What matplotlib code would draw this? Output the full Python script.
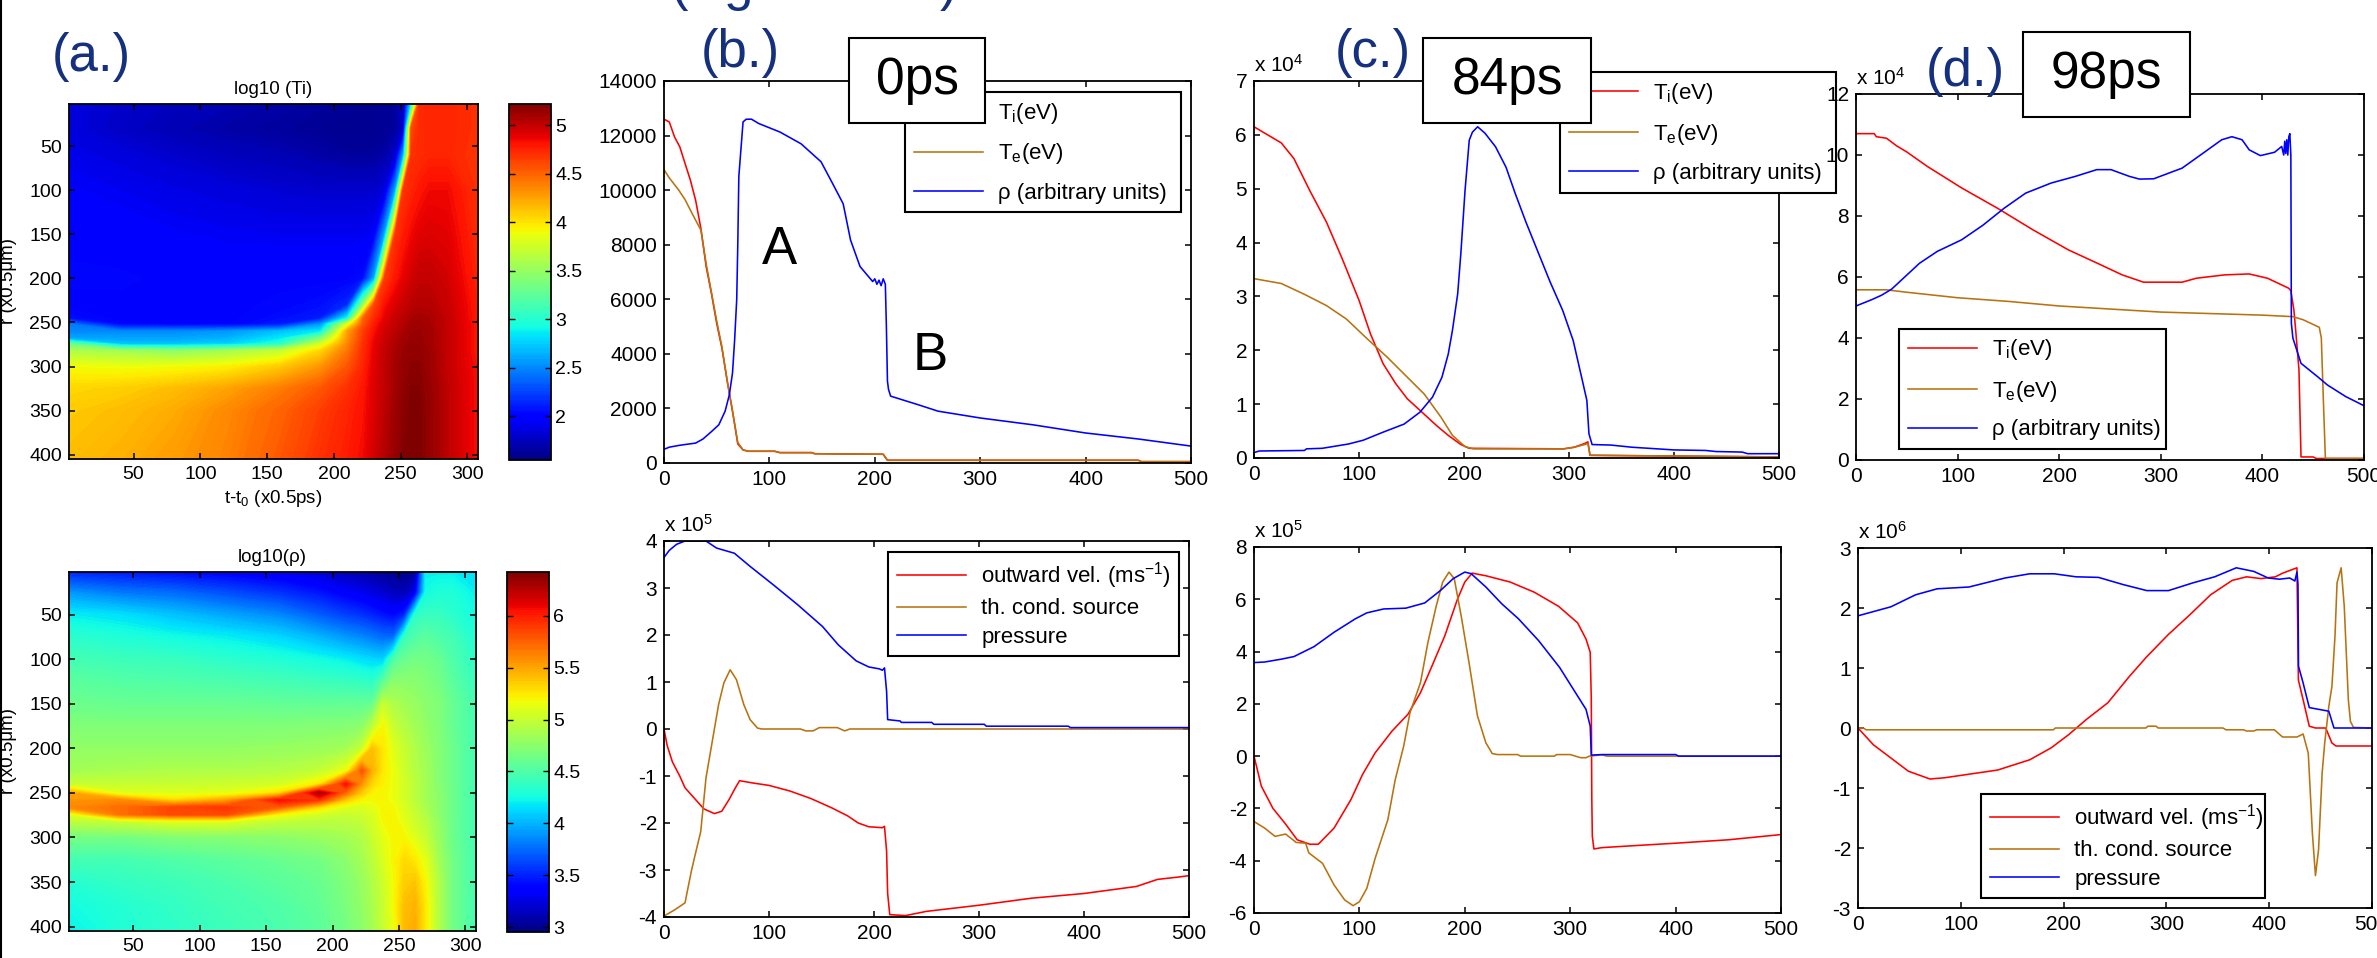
import numpy as np
import matplotlib
matplotlib.use('Agg')
import matplotlib.pyplot as plt
from matplotlib.lines import Line2D
from matplotlib.patches import Rectangle

plt.rcParams['font.family'] = ['Liberation Sans', 'DejaVu Sans']
plt.rcParams['mathtext.fontset'] = 'custom'
plt.rcParams['mathtext.rm'] = 'Liberation Sans'
plt.rcParams['mathtext.it'] = 'Liberation Sans'
plt.rcParams['mathtext.default'] = 'regular'
plt.rcParams['axes.unicode_minus'] = False

W, H = 2377, 958
RED = '#ff0000'
BROWN = '#b8720f'
BLUE = '#0000ff'
NAVY = '#15307f'

# ---- heat maps, values are log10
ti_t = [1, 40, 80, 120, 160, 190, 210, 222, 230, 238, 246, 252, 258, 264, 272, 285, 308]
ti_r = [1, 30, 60, 100, 150, 200, 230, 245, 252, 260, 268, 274, 282, 300, 325, 350, 405]
ti_log = [
    [1.85, 1.80, 1.75, 1.72, 1.68, 1.65, 1.63, 1.62, 1.62, 1.62, 1.65, 1.75, 2.80, 4.72, 4.75, 4.75, 4.70],
    [1.85, 1.78, 1.72, 1.68, 1.65, 1.62, 1.60, 1.60, 1.60, 1.62, 1.65, 1.80, 4.60, 4.72, 4.75, 4.75, 4.70],
    [1.90, 1.85, 1.80, 1.75, 1.72, 1.68, 1.65, 1.65, 1.65, 1.68, 1.80, 2.60, 4.70, 4.72, 4.75, 4.75, 4.68],
    [1.95, 1.92, 1.88, 1.85, 1.82, 1.80, 1.80, 1.80, 1.80, 1.85, 2.60, 4.68, 4.75, 4.80, 4.85, 4.85, 4.70],
    [2.00, 1.98, 1.95, 1.93, 1.92, 1.92, 1.92, 1.92, 1.95, 2.60, 4.68, 4.78, 4.85, 4.90, 4.92, 4.90, 4.72],
    [2.02, 2.02, 2.00, 2.00, 2.00, 2.00, 2.00, 2.05, 2.60, 4.65, 4.80, 4.88, 4.95, 5.00, 5.00, 4.95, 4.75],
    [2.00, 2.00, 2.00, 2.00, 2.02, 2.05, 2.15, 3.50, 4.60, 4.82, 4.92, 4.98, 5.03, 5.05, 5.05, 4.98, 4.78],
    [2.05, 2.00, 2.00, 2.00, 2.05, 2.10, 2.90, 4.50, 4.72, 4.88, 4.98, 5.03, 5.08, 5.10, 5.08, 5.00, 4.78],
    [2.45, 2.02, 2.00, 2.00, 2.10, 2.55, 3.80, 4.55, 4.78, 4.92, 5.00, 5.05, 5.10, 5.12, 5.08, 5.00, 4.80],
    [2.50, 2.50, 2.50, 2.55, 2.70, 2.85, 4.25, 4.65, 4.82, 4.95, 5.02, 5.08, 5.12, 5.13, 5.10, 5.00, 4.80],
    [2.60, 2.60, 2.60, 2.65, 2.85, 3.40, 4.30, 4.68, 4.85, 4.97, 5.05, 5.10, 5.14, 5.14, 5.10, 5.00, 4.80],
    [3.30, 2.70, 2.70, 2.75, 3.00, 3.75, 4.35, 4.70, 4.87, 4.98, 5.06, 5.11, 5.15, 5.15, 5.10, 5.00, 4.80],
    [3.60, 3.55, 3.45, 3.55, 3.70, 4.05, 4.42, 4.72, 4.88, 5.00, 5.08, 5.13, 5.16, 5.16, 5.12, 5.00, 4.80],
    [3.90, 3.88, 3.90, 3.95, 4.10, 4.30, 4.55, 4.75, 4.90, 5.00, 5.10, 5.15, 5.18, 5.18, 5.12, 5.00, 4.82],
    [4.05, 4.08, 4.15, 4.25, 4.40, 4.55, 4.70, 4.80, 4.92, 5.00, 5.10, 5.17, 5.20, 5.20, 5.14, 5.02, 4.82],
    [4.10, 4.15, 4.22, 4.35, 4.50, 4.65, 4.75, 4.82, 4.92, 5.02, 5.12, 5.18, 5.21, 5.21, 5.15, 5.02, 4.82],
    [4.15, 4.20, 4.28, 4.38, 4.55, 4.70, 4.78, 4.85, 4.95, 5.05, 5.14, 5.20, 5.21, 5.21, 5.15, 5.02, 4.82],
]

rho_t = [1, 40, 80, 120, 160, 190, 210, 222, 230, 238, 246, 254, 262, 270, 280, 290, 308]
rho_r = [1, 25, 50, 75, 100, 125, 150, 175, 200, 225, 240, 250, 258, 266, 274, 282, 300, 325, 350, 375, 405]
rho_log = [
    [3.50, 3.45, 3.40, 3.35, 3.30, 3.20, 3.12, 3.08, 3.05, 3.02, 3.00, 3.00, 3.02, 4.20, 4.20, 4.20, 4.15],
    [3.90, 3.80, 3.75, 3.65, 3.55, 3.45, 3.35, 3.30, 3.25, 3.20, 3.15, 3.12, 3.30, 4.25, 4.30, 4.30, 4.20],
    [4.20, 4.15, 4.05, 3.95, 3.85, 3.70, 3.60, 3.55, 3.50, 3.45, 3.40, 3.50, 4.35, 4.40, 4.40, 4.35, 4.25],
    [4.35, 4.30, 4.25, 4.20, 4.12, 4.00, 3.90, 3.85, 3.80, 3.75, 3.75, 4.40, 4.50, 4.55, 4.50, 4.45, 4.30],
    [4.45, 4.42, 4.40, 4.35, 4.30, 4.25, 4.20, 4.15, 4.12, 4.10, 4.50, 4.60, 4.65, 4.65, 4.60, 4.50, 4.35],
    [4.55, 4.52, 4.50, 4.48, 4.45, 4.42, 4.40, 4.38, 4.35, 4.55, 4.75, 4.75, 4.75, 4.70, 4.65, 4.55, 4.40],
    [4.62, 4.60, 4.60, 4.60, 4.58, 4.58, 4.58, 4.58, 4.60, 5.00, 4.90, 4.85, 4.80, 4.75, 4.70, 4.60, 4.45],
    [4.70, 4.70, 4.70, 4.70, 4.70, 4.72, 4.72, 4.75, 4.95, 5.20, 5.00, 4.92, 4.85, 4.78, 4.70, 4.60, 4.45],
    [4.78, 4.78, 4.78, 4.78, 4.80, 4.82, 4.85, 5.00, 5.40, 5.25, 5.10, 5.00, 4.90, 4.82, 4.72, 4.62, 4.45],
    [4.85, 4.88, 4.90, 4.90, 4.92, 4.98, 5.15, 5.80, 5.45, 5.25, 5.15, 5.02, 4.92, 4.85, 4.72, 4.62, 4.45],
    [5.00, 5.00, 5.00, 5.02, 5.05, 5.25, 6.05, 5.55, 5.30, 5.22, 5.15, 5.05, 4.95, 4.85, 4.72, 4.62, 4.45],
    [5.50, 5.10, 5.10, 5.12, 5.30, 6.30, 5.70, 5.35, 5.22, 5.20, 5.15, 5.05, 4.95, 4.85, 4.75, 4.62, 4.45],
    [5.55, 5.60, 5.30, 5.50, 6.05, 5.90, 5.35, 5.20, 5.18, 5.20, 5.15, 5.05, 4.95, 4.85, 4.75, 4.62, 4.45],
    [5.60, 5.70, 5.85, 5.90, 5.75, 5.30, 5.10, 5.08, 5.12, 5.20, 5.18, 5.08, 4.98, 4.88, 4.75, 4.62, 4.45],
    [5.10, 5.70, 5.85, 5.85, 5.20, 5.05, 5.00, 5.03, 5.08, 5.20, 5.20, 5.10, 5.00, 4.90, 4.75, 4.62, 4.45],
    [4.95, 5.00, 5.10, 5.10, 4.98, 4.95, 4.95, 4.98, 5.05, 5.18, 5.22, 5.12, 5.02, 4.95, 4.78, 4.62, 4.45],
    [4.65, 4.65, 4.70, 4.72, 4.75, 4.80, 4.85, 4.90, 5.00, 5.12, 5.20, 5.20, 5.10, 5.00, 4.80, 4.62, 4.45],
    [4.45, 4.45, 4.50, 4.55, 4.60, 4.65, 4.75, 4.85, 4.95, 5.08, 5.20, 5.30, 5.25, 5.12, 4.85, 4.65, 4.45],
    [4.32, 4.38, 4.42, 4.48, 4.55, 4.60, 4.70, 4.80, 4.90, 5.02, 5.18, 5.35, 5.38, 5.20, 4.90, 4.65, 4.45],
    [4.25, 4.32, 4.38, 4.45, 4.50, 4.58, 4.68, 4.78, 4.88, 5.00, 5.18, 5.40, 5.45, 5.25, 4.90, 4.65, 4.45],
    [4.20, 4.30, 4.36, 4.42, 4.48, 4.55, 4.65, 4.75, 4.85, 5.00, 5.15, 5.42, 5.48, 5.25, 4.90, 4.65, 4.45],
]

# ---- (b.) 0ps
b_ti_x = [0, 5, 10, 15, 20, 25, 30, 35, 40, 45, 50, 55, 60, 65, 70, 75, 80, 105, 110, 140, 143, 208, 212, 450, 453, 500]
b_ti_y = [12600, 12500, 11950, 11585, 10975, 10370, 9630, 8600, 7200, 6220, 5120, 4200, 3000, 1900, 700, 480, 430, 430, 380, 380, 340, 320, 100, 100, 50, 50]
b_te_x = [0, 5, 10, 14, 20, 25, 30, 35, 40, 45, 50, 55, 60, 65, 70, 75, 80, 105, 110, 140, 143, 208, 212, 450, 453, 500]
b_te_y = [10750, 10450, 10200, 10000, 9650, 9270, 8900, 8540, 7300, 6250, 5200, 4250, 3000, 1900, 750, 480, 430, 430, 380, 380, 340, 320, 100, 100, 50, 50]
b_rho_x = [0, 5, 15, 30, 37, 45, 52, 58, 62, 65, 67, 69, 70, 71, 73, 75, 78, 83, 90, 110, 130, 149, 160, 170, 177, 186, 198, 200, 202, 204, 206, 208, 210, 211, 212, 213, 215, 240, 260, 300, 350, 400, 450, 500]
b_rho_y = [500, 580, 650, 730, 880, 1150, 1400, 1900, 2500, 3300, 4500, 6000, 8000, 10500, 11500, 12500, 12600, 12600, 12440, 12130, 11700, 11040, 10240, 9500, 8170, 7200, 6650, 6750, 6550, 6700, 6500, 6750, 6550, 5000, 3000, 2700, 2450, 2150, 1900, 1650, 1400, 1100, 880, 620]

b_vel_x = [0, 3, 8, 15, 20, 30, 38, 48, 55, 62, 68, 72, 85, 100, 120, 140, 160, 175, 185, 195, 208, 210, 212, 213, 215, 230, 250, 300, 350, 400, 450, 470, 490, 500]
b_vel_y = [0, -.35, -.7, -1.0, -1.25, -1.5, -1.7, -1.8, -1.75, -1.5, -1.25, -1.1, -1.15, -1.2, -1.32, -1.48, -1.68, -1.85, -2.0, -2.08, -2.1, -2.07, -2.6, -3.5, -3.95, -3.97, -3.88, -3.75, -3.6, -3.5, -3.35, -3.2, -3.15, -3.12]
b_th_x = [0, 10, 20, 26, 29, 35, 40, 46, 52, 57, 63, 69, 76, 82, 89, 93, 130, 135, 142, 148, 165, 172, 177, 500]
b_th_y = [-3.98, -3.85, -3.7, -3.03, -2.74, -2.18, -1.04, -.26, .52, .98, 1.26, 1.05, .52, .2, .02, 0, 0, -.04, -.04, .03, .03, -.04, 0, 0]
b_p_x = [0, 5, 12, 20, 40, 50, 67, 82, 104, 127, 151, 166, 183, 195, 205, 208, 210, 212, 213, 225, 226, 255, 257, 305, 307, 385, 387, 500]
b_p_y = [3.65, 3.8, 3.93, 4.0, 4.0, 3.85, 3.74, 3.46, 3.07, 2.65, 2.18, 1.79, 1.45, 1.32, 1.28, 1.25, 1.3, .8, .2, .17, .14, .14, .1, .1, .06, .06, .03, .03]

# ---- (c.) 84ps
c_ti_x = [0, 26, 38, 53, 69, 84, 100, 111, 123, 135, 146, 160, 174, 185, 197, 205, 295, 305, 315, 318, 320, 500]
c_ti_y = [6.15, 5.85, 5.56, 4.97, 4.38, 3.7, 2.93, 2.3, 1.75, 1.38, 1.1, .85, .6, .42, .25, .18, .17, .2, .27, .3, .05, .02]
c_te_x = [0, 26, 49, 69, 88, 108, 127, 146, 162, 178, 189, 201, 209, 295, 305, 315, 318, 320, 500]
c_te_y = [3.33, 3.24, 3.03, 2.83, 2.58, 2.21, 1.87, 1.5, 1.19, .76, .42, .21, .17, .17, .2, .25, .27, .05, .02]
c_rho_x = [0, 5, 48, 50, 65, 90, 104, 123, 143, 158, 170, 179, 185, 189, 194, 197, 201, 205, 208, 213, 220, 230, 240, 249, 259, 271, 282, 294, 304, 312, 317, 319, 322, 340, 360, 400, 430, 440, 465, 470, 500]
c_rho_y = [.1, .13, .14, .17, .18, .26, .33, .48, .63, .85, 1.13, 1.5, 1.93, 2.37, 3.05, 3.8, 4.97, 5.9, 6.05, 6.15, 6.03, 5.78, 5.4, 4.9, 4.38, 3.8, 3.27, 2.74, 2.18, 1.5, 1.07, .45, .25, .24, .2, .15, .14, .12, .11, .08, .08]

c_vel_x = [0, 7, 18, 30, 41, 53, 61, 76, 92, 103, 115, 131, 146, 158, 169, 181, 193, 200, 207, 220, 243, 266, 289, 307, 315, 319, 320, 320.5, 321, 322.5, 330, 350, 400, 450, 500]
c_vel_y = [0, -1.15, -2.0, -2.6, -3.2, -3.37, -3.37, -2.75, -1.66, -.7, .13, .96, 1.6, 2.43, 3.46, 4.6, 6.0, 6.66, 7.0, 6.9, 6.66, 6.27, 5.73, 5.1, 4.48, 3.97, 2.2, -1.66, -3.07, -3.55, -3.5, -3.45, -3.33, -3.2, -3.0]
c_th_x = [0, 10, 20, 30, 40, 49, 52, 65, 76, 86, 94, 100, 107, 115, 127, 134, 142, 148, 158, 165, 173, 179, 185, 190, 196.5, 204, 212, 220, 226, 231, 250, 253, 285, 287, 300, 305, 310, 315, 318, 330, 335, 400, 500]
c_th_y = [-2.5, -2.75, -3.07, -2.98, -3.3, -3.33, -3.7, -4.1, -4.93, -5.5, -5.72, -5.57, -5.06, -3.9, -2.43, -.9, .38, 1.66, 2.82, 4.35, 5.76, 6.66, 7.04, 6.79, 5.38, 3.58, 1.54, .51, .1, .06, .06, 0, 0, .06, .06, 0, -.06, -.06, 0, .05, 0, 0, 0]
c_p_x = [0, 10, 26, 38, 57, 76, 96, 107, 123, 144, 162, 177, 189, 200, 206, 220, 235, 251, 270, 290, 305, 315, 319, 320, 330, 400, 403, 500]
c_p_y = [3.58, 3.6, 3.71, 3.81, 4.19, 4.74, 5.25, 5.48, 5.63, 5.66, 5.86, 6.34, 6.79, 7.04, 6.98, 6.47, 5.83, 5.25, 4.42, 3.39, 2.43, 1.79, 1.15, .04, .06, .06, 0, 0]

# ---- (d.) 98ps
d_ti_x = [0, 18, 20, 30, 40, 50, 70, 104, 139, 174, 209, 237, 262, 283, 321, 335, 363, 387, 405, 426, 428, 431, 433, 436, 438, 450, 453, 500]
d_ti_y = [10.7, 10.7, 10.6, 10.55, 10.3, 10.1, 9.63, 8.92, 8.26, 7.55, 6.89, 6.46, 6.07, 5.83, 5.83, 5.96, 6.07, 6.1, 5.96, 5.63, 5.55, 4.92, 4.16, 2.95, .1, .1, .05, .05]
d_te_x = [0, 30, 50, 100, 150, 200, 250, 300, 350, 400, 430, 440, 456, 458, 460, 462, 500]
d_te_y = [5.58, 5.58, 5.5, 5.32, 5.2, 5.05, 4.95, 4.85, 4.8, 4.75, 4.7, 4.6, 4.35, 4.0, 1.97, .05, .05]
d_rho_x = [0, 15, 25, 35, 62.5, 80, 104, 125, 146, 167, 192, 216, 237, 251, 269, 279, 293, 321, 342, 360, 370, 380, 387, 398, 412, 419, 421, 422, 423, 424, 425, 426, 427, 428, 428.5, 430, 438, 454, 464, 482, 500]
d_rho_y = [5.05, 5.25, 5.4, 5.6, 6.45, 6.84, 7.22, 7.7, 8.26, 8.75, 9.08, 9.3, 9.52, 9.52, 9.3, 9.21, 9.22, 9.57, 10.07, 10.5, 10.6, 10.5, 10.17, 9.98, 10.09, 10.28, 10.0, 10.45, 10.05, 10.5, 10.0, 10.6, 10.7, 10.0, 4.48, 4.0, 3.17, 2.74, 2.46, 2.08, 1.78]

d_vel_x = [0, 15, 32, 49, 70, 84, 112, 136, 167, 188, 205, 222, 243, 264, 281, 302, 323, 343, 364, 378, 392, 406, 413, 427, 428.4, 433, 439, 445, 455, 461, 465, 500]
d_vel_y = [0, -.28, -.5, -.72, -.85, -.83, -.76, -.7, -.53, -.33, -.11, .14, .42, .86, 1.19, 1.56, 1.89, 2.22, 2.46, 2.52, 2.49, 2.52, 2.58, 2.67, .8, .47, .03, 0, 0, -.25, -.3, -.3]
d_th_x = [0, 5, 8, 190, 192, 280, 282, 290, 292, 355, 358, 375, 378, 385, 388, 405, 413, 427, 433, 438, 442, 445, 448, 451.5, 454, 458, 461, 464, 466, 470, 473, 477, 479, 482, 500]
d_th_y = [0, 0, -.03, -.03, 0, 0, .03, .03, 0, 0, -.03, -.03, -.05, -.05, -.03, -.03, -.15, -.15, -.1, -.42, -1.75, -2.46, -2.03, -.75, -.25, .36, .69, 1.53, 2.42, 2.67, 2.03, .47, .11, .01, 0]
d_p_x = [0, 32, 56, 77, 108, 143, 167, 191, 212, 234, 258, 281, 302, 326, 347, 368, 385, 399, 410, 420, 425, 427, 428, 428.5, 433, 439, 458, 463, 500]
d_p_y = [1.87, 2.02, 2.22, 2.32, 2.35, 2.5, 2.57, 2.57, 2.52, 2.51, 2.39, 2.29, 2.29, 2.42, 2.52, 2.67, 2.61, 2.5, 2.48, 2.5, 2.45, 2.6, 2.4, 1.03, .75, .34, .28, 0, 0]

temp_labels = ['T$_{i}$(eV)', 'T$_{e}$(eV)', 'ρ (arbitrary units)']
flow_labels = ['outward vel. (ms$^{-1}$)', 'th. cond. source', 'pressure']
x_ticks = [0, 100, 200, 300, 400, 500]


def px_axes(fig, x0, x1, y0, y1):
    return fig.add_axes([x0 / W, 1 - y1 / H, (x1 - x0) / W, (y1 - y0) / H])


def style(ax, size=15):
    ax.tick_params(direction='in', top=True, right=True, length=4, width=1.1, labelsize=size, pad=5)
    for s in ax.spines.values():
        s.set_linewidth(1.3)


def heat(fig, box, cbox, t, r, z, lo, hi, ticks, ticklabels, title):
    ax = px_axes(fig, *box)
    levels = np.linspace(lo, hi, 160)
    cs = ax.contourf(t, r, z, levels=levels, cmap='jet')
    ax.set_xlim(1.6, 308)
    ax.set_ylim(405, 2)
    ax.set_xticks([50, 100, 150, 200, 250, 300])
    ax.set_yticks([50, 100, 150, 200, 250, 300, 350, 400])
    style(ax, 14)
    ax.set_title(title, fontsize=13.5, pad=7)
    ax.set_ylabel('r (x0.5μm)', fontsize=13.5)
    ax.yaxis.set_label_coords(-0.128, 0.5)
    cax = px_axes(fig, *cbox)
    cb = fig.colorbar(cs, cax=cax)
    cb.set_ticks(ticks, labels=ticklabels)
    cb.ax.tick_params(direction='in', left=True, right=True, length=4, width=1.0, labelsize=14, pad=3)
    cb.outline.set_linewidth(1.3)
    return ax


def curves(ax, series, ylim, yticks, yticklabels, factor=None):
    for (x, y), c in zip(series, (RED, BROWN, BLUE)):
        ax.plot(x, y, color=c, lw=1.15)
    ax.set_xlim(0, 500)
    ax.set_ylim(*ylim)
    ax.set_xticks(x_ticks)
    ax.set_yticks(yticks, labels=yticklabels)
    style(ax)
    if factor:
        ax.text(0, 1.015, 'x 10$^{%d}$' % factor, transform=ax.transAxes, fontsize=15, ha='left', va='bottom')


def add_legend(ax, labels, box, size=16, spacing=0.72):
    x0, x1, y0, y1 = box
    handles = [Line2D([], [], color=c, lw=1.15) for c in (RED, BROWN, BLUE)]
    leg = ax.legend(handles, labels, loc='center', fontsize=size, mode='expand',
                    bbox_to_anchor=(x0 / W, 1 - y1 / H, (x1 - x0) / W, (y1 - y0) / H),
                    bbox_transform=ax.figure.transFigure, fancybox=False, framealpha=1,
                    edgecolor='black', handlelength=3.1, handletextpad=0.7,
                    labelspacing=spacing, borderaxespad=0)
    leg.get_frame().set_linewidth(1.5)


def label_box(fig, x0, x1, y0, y1, text):
    fig.add_artist(Rectangle((x0 / W, 1 - y1 / H), (x1 - x0) / W, (y1 - y0) / H, transform=fig.transFigure,
                             facecolor='white', edgecolor='black', lw=1.5, zorder=5))
    fig.text((x0 + x1) / 2 / W, 1 - (y0 + y1) / 2 / H, text, fontsize=37, ha='center', va='center', zorder=6)


def put(fig, x, y, text, size=38, color='black'):
    fig.text(x / W, 1 - y / H, text, fontsize=size, color=color, ha='center', va='center', zorder=4)


fig = plt.figure(figsize=(W / 100, H / 100), dpi=100)

ax = heat(fig, (69, 478, 104, 459), (509, 551, 104, 460), ti_t, ti_r, ti_log, 1.55, 5.22,
          [2, 2.5, 3, 3.5, 4, 4.5, 5], ['2', '2.5', '3', '3.5', '4', '4.5', '5'], 'log10 (Ti)')
ax.set_xlabel('t-t$_{0}$ (x0.5ps)', fontsize=13.5, labelpad=4)
heat(fig, (69, 476, 572, 931), (507, 549, 572, 932), rho_t, rho_r, rho_log, 2.955, 6.42,
     [3, 3.5, 4, 4.5, 5, 5.5, 6], ['3', '3.5', '4', '4.5', '5', '5.5', '6'], 'log10(ρ)')

ax = px_axes(fig, 664, 1191, 81, 463)
curves(ax, [(b_ti_x, b_ti_y), (b_te_x, b_te_y), (b_rho_x, b_rho_y)], (0, 14000),
       list(range(0, 14001, 2000)), [str(v) for v in range(0, 14001, 2000)])
add_legend(ax, temp_labels, (905, 1181, 92, 212))

ax = px_axes(fig, 664, 1189, 541, 917)
curves(ax, [(b_vel_x, b_vel_y), (b_th_x, b_th_y), (b_p_x, b_p_y)], (-4, 4),
       list(range(-4, 5)), [str(v) for v in range(-4, 5)], 5)
add_legend(ax, flow_labels, (888, 1179, 552, 656), spacing=0.32)

ax = px_axes(fig, 1254, 1779, 81, 458)
curves(ax, [(c_ti_x, c_ti_y), (c_te_x, c_te_y), (c_rho_x, c_rho_y)], (0, 7),
       list(range(0, 8)), [str(v) for v in range(0, 8)], 4)
add_legend(ax, temp_labels, (1560, 1836, 73, 192))

ax = px_axes(fig, 1254, 1781, 547, 913)
curves(ax, [(c_vel_x, c_vel_y), (c_th_x, c_th_y), (c_p_x, c_p_y)], (-6, 8),
       list(range(-6, 9, 2)), [str(v) for v in range(-6, 9, 2)], 5)

ax = px_axes(fig, 1856, 2364, 94, 460)
curves(ax, [(d_ti_x, d_ti_y), (d_te_x, d_te_y), (d_rho_x, d_rho_y)], (0, 12),
       list(range(0, 13, 2)), [str(v) for v in range(0, 13, 2)], 4)
add_legend(ax, temp_labels, (1899, 2166, 332, 446))

ax = px_axes(fig, 1858, 2372, 548, 908)
curves(ax, [(d_vel_x, d_vel_y), (d_th_x, d_th_y), (d_p_x, d_p_y)], (-3, 3),
       list(range(-3, 4)), [str(v) for v in range(-3, 4)], 6)
add_legend(ax, flow_labels, (1981, 2265, 796, 896), spacing=0.32)

label_box(fig, 849, 985, 38, 123, '0ps')
label_box(fig, 1423, 1591, 38, 123, '84ps')
label_box(fig, 2023, 2190, 32, 117, '98ps')

put(fig, 91, 57, '(a.)', color=NAVY)
put(fig, 740, 53, '(b.)', color=NAVY)
put(fig, 1373, 53, '(c.)', color=NAVY)
put(fig, 1965, 72, '(d.)', color=NAVY)
put(fig, 779, 250, 'A')
put(fig, 930, 356, 'B')

# bits of a larger heading cut by the top edge
put(fig, 680, -14, '(', color=NAVY)
put(fig, 738, -14, 'g', color=NAVY)
put(fig, 948, -14, ')', color=NAVY)

fig.add_artist(Line2D([0.0004, 0.0004], [0, 1], color='black', lw=1.5, transform=fig.transFigure))

fig.savefig('out.png', dpi=100)
